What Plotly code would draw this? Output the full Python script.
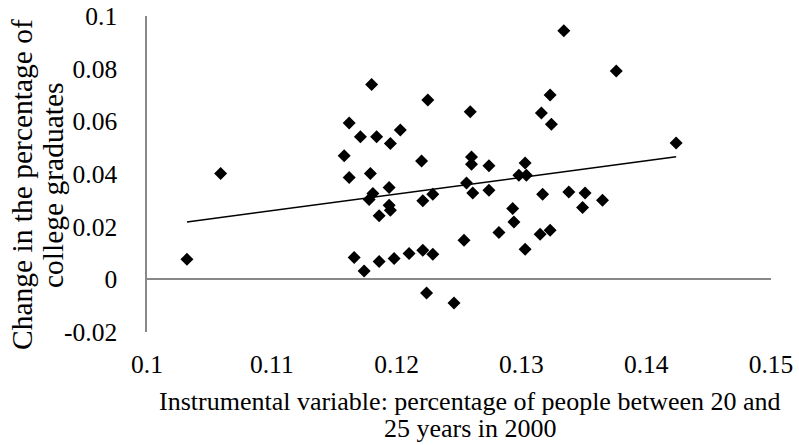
import numpy as np
import plotly.graph_objects as go

# Instrumental variable (share of people aged 20-25 in 2000)
x_vals = [0.1032, 0.1059, 0.1158, 0.1162, 0.1162, 0.1166, 0.1171, 0.1174, 0.1180, 0.1184,
          0.1179, 0.1181, 0.1178, 0.1186, 0.1186, 0.1194, 0.1194, 0.1195, 0.1195, 0.1198,
          0.1203, 0.1210, 0.1220, 0.1221, 0.1221, 0.1225, 0.1224, 0.1229, 0.1229, 0.1246,
          0.1254, 0.1256, 0.1259, 0.1260, 0.1260, 0.1261, 0.1274, 0.1274, 0.1282, 0.1293,
          0.1294, 0.1298, 0.1303, 0.1304, 0.1303, 0.1315, 0.1316, 0.1317, 0.1323, 0.1323,
          0.1324, 0.1334, 0.1338, 0.1349, 0.1351, 0.1365, 0.1376, 0.1424]
# Change in the percentage of college graduates
y_vals = [0.0076, 0.0402, 0.0469, 0.0594, 0.0387, 0.0083, 0.0541, 0.0032, 0.0740, 0.0541,
          0.0402, 0.0326, 0.0303, 0.0241, 0.0068, 0.0349, 0.0281, 0.0262, 0.0516, 0.0079,
          0.0567, 0.0098, 0.0449, 0.0298, 0.0110, 0.0681, -0.0052, 0.0323, 0.0095, -0.0090,
          0.0148, 0.0366, 0.0636, 0.0465, 0.0437, 0.0328, 0.0431, 0.0338, 0.0178, 0.0269,
          0.0218, 0.0395, 0.0442, 0.0395, 0.0114, 0.0171, 0.0632, 0.0323, 0.0186, 0.0700,
          0.0589, 0.0944, 0.0332, 0.0273, 0.0328, 0.0300, 0.0791, 0.0518]

x_ticks = [0.1, 0.11, 0.12, 0.13, 0.14, 0.15]
x_tick_labels = ["0.1", "0.11", "0.12", "0.13", "0.14", "0.15"]
y_ticks = [-0.02, 0, 0.02, 0.04, 0.06, 0.08, 0.1]
y_tick_labels = ["-0.02", "0", "0.02", "0.04", "0.06", "0.08", "0.1"]

x_title_lines = ["Instrumental variable: percentage of people between 20 and",
                 "25 years in 2000"]
y_title_lines = ["Change in the percentage of", "college graduates"]

# linear trend line (least squares), spanning the data range
xa = np.array(x_vals)
ya = np.array(y_vals)
slope, intercept = np.polyfit(xa, ya, 1)
trend_x = [xa.min(), xa.max()]
trend_y = [slope * v + intercept for v in trend_x]

FONT = "Liberation Serif"
AXIS_GRAY = "#888888"

W, H = 799, 445
ML, MR, MT, MB = 147, 28, 16, 113
PW, PH = W - ML - MR, H - MT - MB


def px_to_paper_x(px):
    return (px - ML) / PW


def px_to_paper_y(py):
    return (H - MB - py) / PH


fig = go.Figure()
fig.add_trace(go.Scatter(
    x=x_vals, y=y_vals, mode="markers",
    marker=dict(symbol="diamond", size=10, color="black", line=dict(width=0)),
    showlegend=False, hoverinfo="x+y",
))
fig.add_trace(go.Scatter(
    x=trend_x, y=trend_y, mode="lines",
    line=dict(color="black", width=1.5),
    showlegend=False, hoverinfo="skip",
))

annotations = []
for text, py in zip(x_title_lines, [401, 428]):
    annotations.append(dict(
        text=text, xref="paper", yref="paper", x=px_to_paper_x(470), y=px_to_paper_y(py),
        xanchor="center", yanchor="middle", showarrow=False, borderpad=0,
        font=dict(family=FONT, size=26, color="black")))
for text, px in zip(y_title_lines, [22, 53]):
    annotations.append(dict(
        text=text, xref="paper", yref="paper", x=px_to_paper_x(px), y=px_to_paper_y(185),
        xanchor="center", yanchor="middle", showarrow=False, textangle=-90, borderpad=0,
        font=dict(family=FONT, size=29.5, color="black")))

fig.update_layout(
    width=W, height=H,
    margin=dict(l=ML, r=MR, t=MT, b=MB),
    paper_bgcolor="white", plot_bgcolor="white",
    font=dict(family=FONT, size=25.5, color="black"),
    xaxis=dict(
        range=[0.1, 0.15], tickvals=x_ticks, ticktext=x_tick_labels,
        showgrid=False, zeroline=False, showline=False, ticks="",
        ticklabelstandoff=14, automargin=False,
        tickfont=dict(family=FONT, size=25.5, color="black"),
    ),
    yaxis=dict(
        range=[-0.02, 0.1], tickvals=y_ticks, ticktext=y_tick_labels,
        showgrid=False, zeroline=True, zerolinecolor=AXIS_GRAY, zerolinewidth=1.5,
        showline=True, linecolor=AXIS_GRAY, linewidth=1.5, ticks="",
        ticklabelstandoff=23, automargin=False,
        tickfont=dict(family=FONT, size=25.5, color="black"),
    ),
    annotations=annotations,
)

# remove the browser's default page margin so the figure sits at the top-left corner
fig.write_html("out.html",
               config={"displayModeBar": False},
               post_script="document.body.style.margin='0';document.body.style.overflow='hidden';")
